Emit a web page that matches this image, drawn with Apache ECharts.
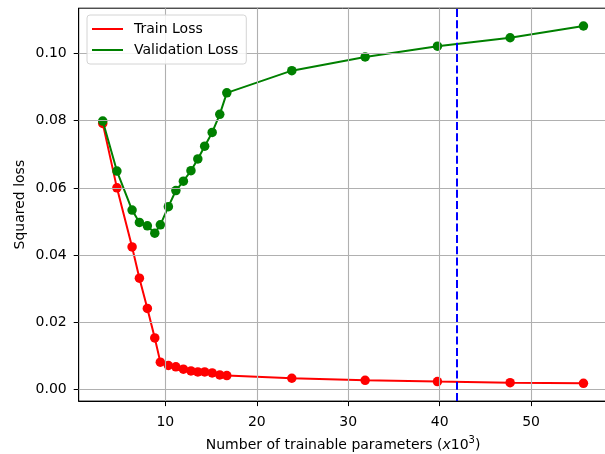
<!DOCTYPE html>
<html>
<head>
<meta charset="utf-8">
<script src="https://cdn.jsdelivr.net/npm/echarts@6/dist/echarts.min.js"></script>
<style>
html, body { margin: 0; padding: 0; background: #fff; }
#chart { width: 605px; height: 454px; }
</style>
</head>
<body>
<div id="chart"></div>
<script>
// number of trainable parameters (x10^3)
const params = [3.15, 4.7, 6.36, 7.16, 8.03, 8.84, 9.45, 10.33, 11.15, 11.97, 12.8,
  13.55, 14.3, 15.12, 15.95, 16.72, 23.83, 31.85, 39.76, 47.71, 55.73]
const trainLoss = [0.0792, 0.0600, 0.0424, 0.0331, 0.0241, 0.0153, 0.0081, 0.0071, 0.0067,
  0.0060, 0.0055, 0.0052, 0.0052, 0.0049, 0.0043, 0.0041, 0.0033, 0.0027, 0.0023, 0.0020, 0.0018]
const valLoss = [0.0799, 0.0650, 0.0534, 0.0497, 0.0487, 0.0465, 0.0490, 0.0544, 0.0592,
  0.0620, 0.0651, 0.0686, 0.0724, 0.0765, 0.0819, 0.0883, 0.0949, 0.0990, 0.1022, 0.1047, 0.1082]
const chosenParams = 41.9

const xTicks = [10, 20, 30, 40, 50]
const yTicks = [0, 0.02, 0.04, 0.06, 0.08, 0.10]

const FONT = 'DejaVu Sans'
const zip = (xs, ys) => xs.map((x, i) => [x, ys[i]])

let chart = echarts.init(document.getElementById('chart'), null, {renderer: 'canvas'})

let chartOpt = {
  animation: false,
  textStyle: {fontFamily: FONT},
  grid: {
    left: 78.7, top: 8.2, width: 528.8, height: 392.9,
    outerBoundsMode: 'none', containLabel: false,
    show: true, borderColor: '#000', borderWidth: 1, backgroundColor: 'transparent'
  },
  legend: {
    orient: 'vertical',
    left: 87, top: 15, z: 10,
    padding: [7, 8, 7, 5],
    itemGap: 7,
    itemWidth: 31, itemHeight: 2,
    icon: 'rect',
    backgroundColor: 'rgba(255,255,255,0.85)',
    borderColor: '#d4d4d4', borderWidth: 1, borderRadius: 3,
    textStyle: {fontFamily: FONT, fontSize: 14, color: '#000', padding: [0, 0, 0, 6]},
    data: ['Train Loss', 'Validation Loss']
  },
  xAxis: {
    type: 'value',
    min: 0.52, max: 58.36,
    name: 'Number of trainable parameters ({it|x}10{sup|3})',
    nameLocation: 'middle',
    nameGap: 34,
    nameMoveOverlap: false,
    nameTextStyle: {
      fontFamily: FONT, fontSize: 14, color: '#000', lineHeight: 20,
      rich: {
        it: {fontFamily: FONT, fontSize: 14, fontStyle: 'italic', color: '#000', lineHeight: 20},
        sup: {fontFamily: FONT, fontSize: 10, color: '#000', lineHeight: 10, verticalAlign: 'top'}
      }
    },
    axisLine: {show: true, onZero: false, lineStyle: {color: '#000', width: 1}},
    axisTick: {show: true, length: 5, lineStyle: {color: '#000'}, customValues: xTicks},
    axisLabel: {fontFamily: FONT, fontSize: 14, color: '#000', margin: 14, customValues: xTicks},
    splitLine: {show: false}
  },
  yAxis: {
    type: 'value',
    min: -0.0035, max: 0.1135,
    name: 'Squared loss',
    nameLocation: 'middle',
    nameRotate: 90,
    nameGap: 51,
    nameMoveOverlap: false,
    nameTextStyle: {fontFamily: FONT, fontSize: 14, color: '#000'},
    axisLine: {show: true, onZero: false, lineStyle: {color: '#000', width: 1}},
    axisTick: {show: true, length: 5, lineStyle: {color: '#000'}, customValues: yTicks},
    axisLabel: {
      fontFamily: FONT, fontSize: 14, color: '#000', margin: 12, customValues: yTicks,
      formatter: v => v.toFixed(2)
    },
    splitLine: {show: false}
  },
  series: [
    {
      // grid lines
      type: 'line', data: [], silent: true, z: 1,
      markLine: {
        silent: true, symbol: 'none', label: {show: false},
        lineStyle: {color: '#b0b0b0', width: 1.1, type: 'solid'},
        data: xTicks.map(v => ({xAxis: v})).concat(yTicks.map(v => ({yAxis: v})))
      }
    },
    {
      name: 'Train Loss', type: 'line', z: 3,
      data: zip(params, trainLoss),
      color: '#ff0000',
      lineStyle: {width: 2},
      symbol: 'circle', symbolSize: 9.5, showSymbol: true,
      itemStyle: {color: '#ff0000'}
    },
    {
      name: 'Validation Loss', type: 'line', z: 4,
      data: zip(params, valLoss),
      color: '#008000',
      lineStyle: {width: 2},
      symbol: 'circle', symbolSize: 9.5, showSymbol: true,
      itemStyle: {color: '#008000'}
    },
    {
      // chosen model size
      type: 'line', data: [], silent: true, z: 5,
      markLine: {
        silent: true, symbol: 'none', label: {show: false},
        lineStyle: {color: '#0000ff', width: 2, type: [8, 3.3]},
        data: [{xAxis: chosenParams}]
      }
    }
  ]
}

chart.setOption(chartOpt)
</script>
</body>
</html>
